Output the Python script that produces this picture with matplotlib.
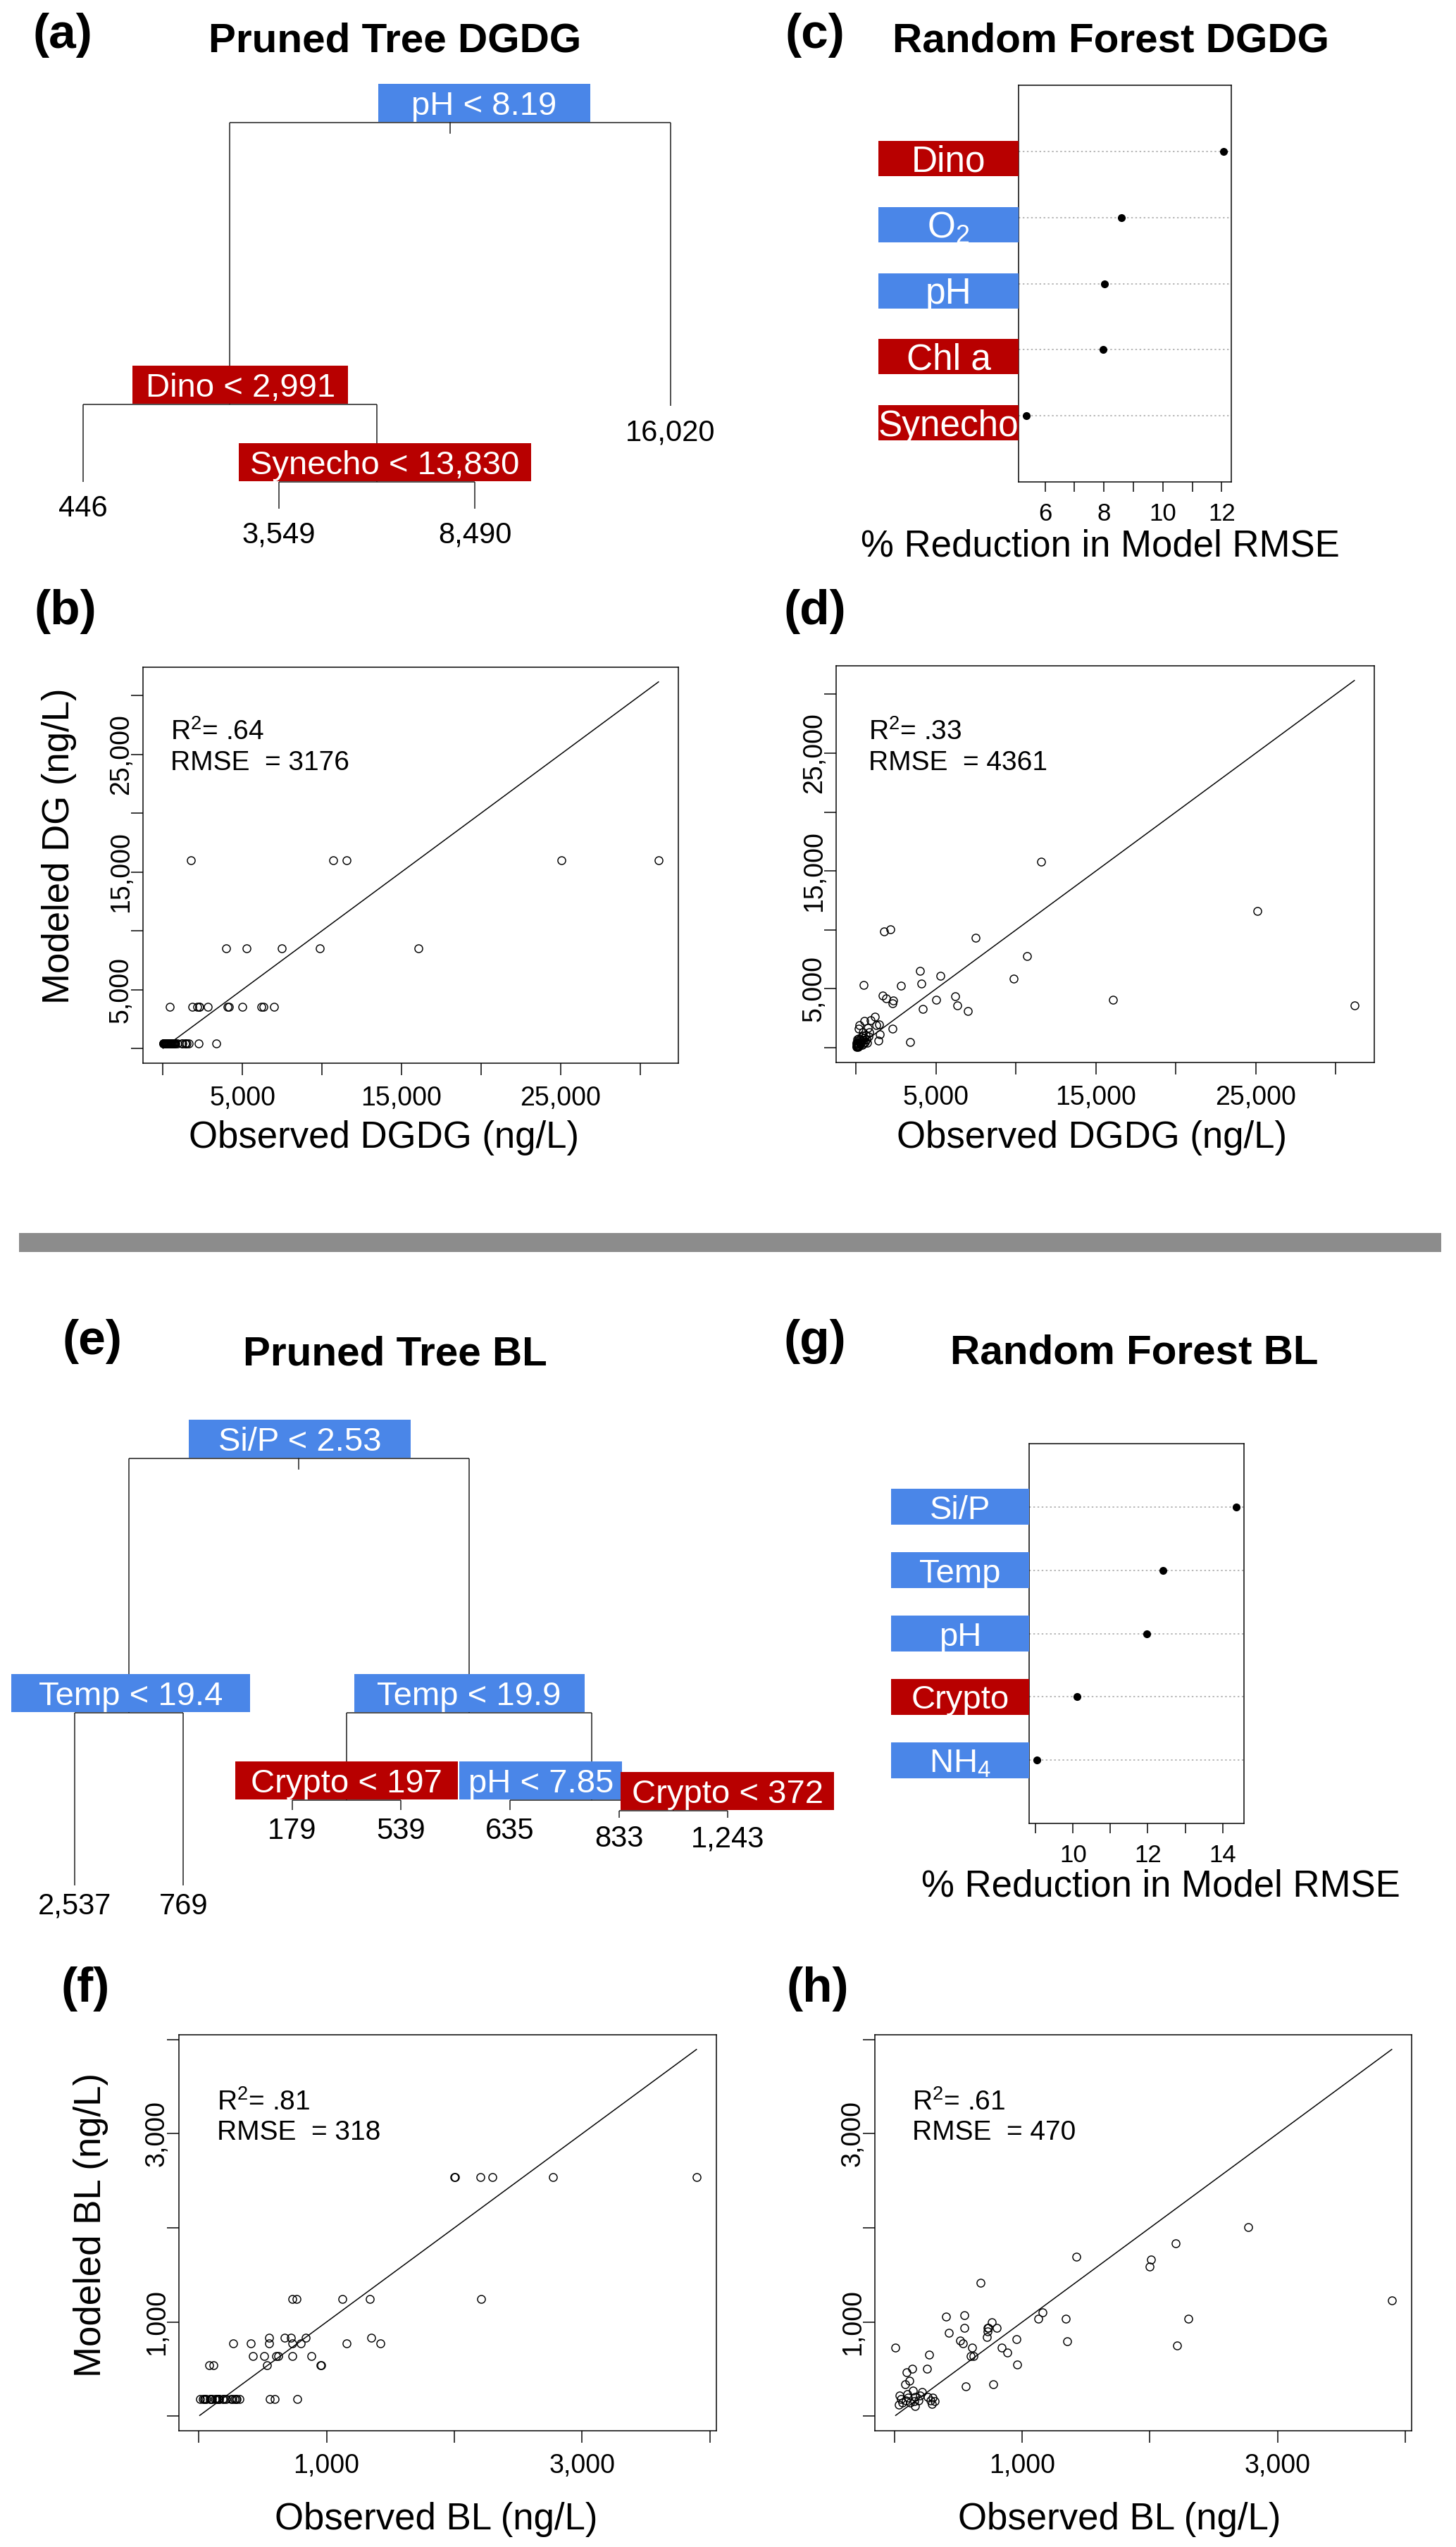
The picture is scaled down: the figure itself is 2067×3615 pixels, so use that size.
import numpy as np
import matplotlib
matplotlib.use("Agg")
import matplotlib.pyplot as plt
from matplotlib.patches import Rectangle
from matplotlib import transforms as mtrans

plt.rcParams['font.family'] = ['Liberation Sans', 'DejaVu Sans']
plt.rcParams['mathtext.fontset'] = 'custom'
plt.rcParams['mathtext.rm'] = 'Liberation Sans'
plt.rcParams['mathtext.it'] = 'Liberation Sans:italic'
plt.rcParams['mathtext.bf'] = 'Liberation Sans:bold'

# ======================= DATA =======================
# (a) pruned regression tree for DGDG (preorder, left child first)
tree_dg_labels = ["pH < 8.19", "Dino < 2,991", "446", "Synecho < 13,830", "3,549", "8,490", "16,020"]
tree_dg_parent = [-1, 0, 1, 1, 3, 3, 0]
tree_dg_height = [1.0, 0.270, 0.069, 0.069, 0.0, 0.0, 0.266]
tree_dg_kind = ["env", "bio", "leaf", "bio", "leaf", "leaf", "leaf"]

# (e) pruned regression tree for BL
tree_bl_labels = ["Si/P < 2.53", "Temp < 19.4", "2,537", "769", "Temp < 19.9", "Crypto < 197",
                  "179", "539", "pH < 7.85", "635", "Crypto < 372", "833", "1,243"]
tree_bl_parent = [-1, 0, 1, 1, 0, 4, 5, 5, 4, 8, 8, 10, 10]
tree_bl_height = [1.0, 0.404, 0.0, 0.0, 0.404, 0.200, 0.177, 0.177, 0.200, 0.177, 0.175, 0.158, 0.158]
tree_bl_kind = ["env", "env", "leaf", "leaf", "env", "bio", "leaf", "leaf", "env", "leaf", "bio", "leaf", "leaf"]

# (c) / (g) random forest variable importance (% reduction in model RMSE)
rf_dg_vars = ["Dino", r"$\mathregular{O_2}$", "pH", "Chl a", "Synecho"]
rf_dg_kind = ["bio", "env", "env", "bio", "bio"]
rf_dg_imp = [12.06, 8.60, 8.02, 7.98, 5.37]

rf_bl_vars = ["Si/P", "Temp", "pH", "Crypto", r"$\mathregular{NH_4}$"]
rf_bl_kind = ["env", "env", "env", "bio", "env"]
rf_bl_imp = [14.36, 12.40, 11.97, 10.11, 9.04]

# (b) / (d) observed DGDG vs pruned-tree and random-forest predictions (ng/L)
dg_obs = [31155, 25070, 11549, 10704, 1746,
          16056, 9859, 7493, 5268, 4000,
          6986, 6310, 6197, 4986, 4169, 4085, 2817, 2310, 2290, 2141, 1859, 451,
          3361, 2257, 1639, 1480, 1420, 1390, 1250, 1197,
          920, 810, 730, 510, 440, 220, 150,
          20, 40, 60, 80, 100, 120, 140, 160, 180, 200,
          230, 260, 290, 320, 350, 380, 410, 450, 490, 530,
          570, 620, 660, 700, 760, 30, 70, 110, 50, 90]
dg_tree = [16020, 16020, 16020, 16020, 16020,
           8490, 8490, 8490, 8490, 8490,
           3549, 3549, 3549, 3549, 3549, 3549, 3549, 3549, 3549, 3549, 3549, 3549,
           446, 446, 446, 446, 446, 446, 446, 446,
           446, 446, 446, 446, 446, 446, 446,
           446, 446, 446, 446, 446, 446, 446, 446, 446, 446,
           446, 446, 446, 446, 446, 446, 446, 446, 446, 446,
           446, 446, 446, 446, 446, 446, 446, 446, 446, 446]
dg_rf = [3600, 11580, 15800, 7780, 9860,
         4090, 5840, 9340, 6130, 6520,
         3110, 3600, 4380, 4090, 3310, 5450, 5250, 4020, 3800, 10060, 4220, 5350,
         490, 1650, 4440, 1120, 2010, 620, 1950, 2630,
         2310, 1310, 1710, 2270, 1350, 1950, 1610,
         150, 300, 200, 450, 250, 600, 350, 100, 800, 500,
         300, 700, 400, 900, 550, 250, 1000, 650, 350, 850,
         500, 1100, 750, 400, 950, 80, 120, 60, 400, 700]
dg_stats_tree = [r"$\mathregular{R^2}$= .64", "RMSE  = 3176"]
dg_stats_rf = [r"$\mathregular{R^2}$= .33", "RMSE  = 4361"]

# (f) / (h) observed BL vs pruned-tree and random-forest predictions (ng/L)
bl_obs = [3896, 2770, 2300, 2204, 2008, 1998,
          2211, 1341, 1126, 763, 730,
          1352, 837, 722, 674, 548,
          1422, 1159, 800, 733, 548, 404, 267,
          881, 730, 619, 604, 511, 422,
          959, 952, 533, 115, 81,
          770, 593, 556, 7,
          90, 138, 252, 50, 31, 96, 141, 160, 188, 123,
          215, 261, 280, 298, 316, 289, 86, 59, 160, 197,
          105, 40, 151]
bl_tree = [2537, 2537, 2537, 2537, 2537, 2537,
           1243, 1243, 1243, 1243, 1243,
           833, 833, 833, 833, 833,
           769, 769, 769, 769, 769, 769, 769,
           635, 635, 635, 635, 635, 635,
           539, 539, 539, 539, 539,
           179, 179, 179, 179,
           179, 179, 179, 179, 179, 179, 179, 179, 179, 179,
           179, 179, 179, 179, 179, 179, 179, 179, 179, 179,
           179, 179, 179]
bl_rf = [1232, 2011, 1036, 1838, 1667, 1592,
         752, 1036, 1036, 998, 941,
         792, 731, 840, 1414, 1073,
         1693, 1101, 941, 941, 941, 1060, 656,
         678, 900, 639, 731, 800, 888,
         546, 814, 774, 376, 338,
         341, 639, 314, 731,
         469, 501, 501, 180, 118, 231, 268, 205, 168, 143,
         256, 205, 168, 193, 155, 130, 168, 143, 105, 218,
         193, 218, 155]
bl_stats_tree = [r"$\mathregular{R^2}$= .81", "RMSE  = 318"]
bl_stats_rf = [r"$\mathregular{R^2}$= .61", "RMSE  = 470"]

dg_ticks = [0, 5000, 10000, 15000, 20000, 25000, 30000]
dg_ticklabels = ["", "5,000", "", "15,000", "", "25,000", ""]
bl_ticks = [0, 1000, 2000, 3000, 4000]
bl_ticklabels = ["", "1,000", "", "3,000", ""]

# ======================= STYLE / LAYOUT =======================
W, H, DPI = 2067, 3615, 100
PT = 72.0 / DPI          # points per pixel
BLUE = "#4A86E8"
RED = "#B80000"
KIND_COL = {"env": BLUE, "bio": RED}
LW = 1.5 * PT

fig = plt.figure(figsize=(W / DPI, H / DPI), dpi=DPI)
fig.patch.set_facecolor("white")


def px_ax(l, t, r, b):
    return fig.add_axes([l / W, 1 - b / H, (r - l) / W, (b - t) / H])


def ftext(x, y, s, **kw):
    fig.text(x / W, 1 - y / H, s, **kw)


def draw_tree(rect, x0px, dxpx, y0px, dhpx, labels, parent, height, kind,
              box_w, box_dx, leaf_off, split_fs=34, leaf_fs=30):
    l, t, r, b = rect
    ax = px_ax(l, t, r, b)
    ax.set_xlim(1 + (l - x0px) / dxpx, 1 + (r - x0px) / dxpx)
    ax.set_ylim((y0px - b) / dhpx, (y0px - t) / dhpx)
    ax.axis("off")
    n = len(labels)
    children = [[j for j in range(n) if parent[j] == i] for i in range(n)]
    xs = [0.0] * n
    k = 0
    for i in range(n):
        if not children[i]:
            k += 1
            xs[i] = float(k)
    for i in reversed(range(n)):
        if children[i]:
            xs[i] = float(np.mean([xs[c] for c in children[i]]))
    # branches
    for i in range(n):
        if children[i]:
            cx = [xs[c] for c in children[i]]
            ax.plot([min(cx), max(cx)], [height[i], height[i]], color="#1a1a1a", lw=LW, zorder=1,
                    solid_capstyle="butt")
            for c in children[i]:
                ax.plot([xs[c], xs[c]], [height[i], height[c]], color="#1a1a1a", lw=LW, zorder=1,
                        solid_capstyle="butt")
    ax.plot([xs[0], xs[0]], [height[0], height[0] - 15 / dhpx], color="#1a1a1a", lw=LW, zorder=1)
    # split boxes and leaf labels
    s = 0
    bh = 54 / dhpx
    for i in range(n):
        if children[i]:
            bw = box_w[s] / dxpx
            cx = xs[i] + box_dx[s] / dxpx
            y_bot = height[i] + 1 / dhpx
            ax.add_patch(Rectangle((cx - bw / 2, y_bot), bw, bh, facecolor=KIND_COL[kind[i]],
                                   edgecolor="none", zorder=3, clip_on=False))
            ax.annotate(labels[i], xy=(cx, y_bot + bh / 2), xytext=(0, -0.36 * split_fs),
                        textcoords="offset points", ha="center", va="baseline",
                        color="white", fontsize=split_fs, zorder=4, annotation_clip=False)
            s += 1
        else:
            ax.annotate(labels[i], xy=(xs[i], height[i]), xytext=(0, -leaf_off * PT),
                        textcoords="offset points", ha="center", va="baseline",
                        color="black", fontsize=leaf_fs, annotation_clip=False)
    return ax


def draw_dotchart(rect, names, kinds, vals, label_fs, box_w, box_off, box_h):
    l, t, r, b = rect
    ax = px_ax(l, t, r, b)
    n = len(names)
    ys = np.arange(n, 0, -1)
    lo, hi = min(vals), max(vals)
    pad = 0.04 * (hi - lo)
    ax.set_xlim(lo - pad, hi + pad)
    ax.set_ylim(0, n + 1)
    for y in ys:
        ax.axhline(y, color="#a8a8a8", lw=1.6 * PT, linestyle=(0, (1.5, 2.2)), zorder=1)
    ax.plot(vals, ys, "o", color="black", ms=7, zorder=3)
    ticks = list(range(int(np.ceil(lo - pad)), int(np.floor(hi + pad)) + 1))
    ax.set_xticks(ticks, [str(v) if v % 2 == 0 else "" for v in ticks])
    ax.set_yticks([])
    ax.tick_params(axis="x", length=14 * PT, width=LW, pad=11, labelsize=25, direction="out")
    for sp in ax.spines.values():
        sp.set_linewidth(LW)
    unit_px = (b - t) / (n + 1)
    trans = mtrans.blended_transform_factory(ax.transAxes, ax.transData)
    fw = box_w / (r - l)
    for y, nm, kd in zip(ys, names, kinds):
        yc = y - box_off / unit_px
        hh = box_h / unit_px
        ax.add_patch(Rectangle((-fw, yc - hh / 2), fw, hh, transform=trans,
                               facecolor=KIND_COL[kd], edgecolor="none", clip_on=False, zorder=3))
        ax.annotate(nm, xy=(-fw / 2, yc), xycoords=trans, xytext=(0, -0.36 * label_fs),
                    textcoords="offset points", ha="center", va="baseline", color="white",
                    fontsize=label_fs, annotation_clip=False, zorder=4)
    return ax


def draw_scatter(rect, obs, pred, ticks, ticklabels, stats, stat_xy):
    l, t, r, b = rect
    ax = px_ax(l, t, r, b)
    hi = max(obs)
    rng = hi - 0
    ax.set_xlim(0 - 0.04 * rng, hi + 0.04 * rng)
    ax.set_ylim(0 - 0.04 * rng, hi + 0.04 * rng)
    ax.plot(obs, pred, "o", mfc="none", mec="black", ms=8, mew=1.05, zorder=3)
    ax.plot([min(obs), max(obs)], [min(obs), max(obs)], color="black", lw=1.5 * PT, zorder=2)
    ax.set_xticks(ticks, ticklabels)
    ax.set_yticks(ticks, ticklabels, rotation=90, ha="center", va="baseline", rotation_mode="anchor")
    ax.tick_params(axis="both", length=17 * PT, width=LW, labelsize=27, direction="out")
    ax.tick_params(axis="x", pad=11)
    ax.tick_params(axis="y", pad=3)
    for sp in ax.spines.values():
        sp.set_linewidth(LW)
    sx, sy1, sy2 = stat_xy
    ftext(sx, sy1, stats[0], ha="left", va="baseline", fontsize=28)
    ftext(sx, sy2, stats[1], ha="left", va="baseline", fontsize=28)
    return ax


# ---------------- panel (a): pruned tree DGDG ----------------
draw_tree((0, 100, 1100, 800), 118, 278, 722, 548,
          tree_dg_labels, tree_dg_parent, tree_dg_height, tree_dg_kind,
          box_w=[301, 306, 415], box_dx=[48, 15, 11], leaf_off=49)
ftext(46, 68, "(a)", ha="left", va="baseline", fontsize=50, fontweight="bold")
ftext(561, 74, "Pruned Tree DGDG", ha="center", va="baseline", fontsize=42, fontweight="bold")

# ---------------- panel (c): random forest DGDG ----------------
draw_dotchart((1446, 121, 1748, 684), rf_dg_vars, rf_dg_kind, rf_dg_imp,
              label_fs=37, box_w=199, box_off=10, box_h=50)
ftext(1115, 68, "(c)", ha="left", va="baseline", fontsize=50, fontweight="bold")
ftext(1577, 74, "Random Forest DGDG", ha="center", va="baseline", fontsize=42, fontweight="bold")
ftext(1562, 789, "% Reduction in Model RMSE", ha="center", va="baseline", fontsize=38)

# ---------------- panel (b): tree fit DGDG ----------------
draw_scatter((203, 947, 963, 1509), dg_obs, dg_tree, dg_ticks, dg_ticklabels,
             dg_stats_tree, (242, 1050, 1093))
ftext(48, 886, "(b)", ha="left", va="baseline", fontsize=50, fontweight="bold")
ftext(545, 1629, "Observed DGDG (ng/L)", ha="center", va="baseline", fontsize=38)
ftext(98, 1201, "Modeled DG (ng/L)", ha="center", va="baseline", fontsize=38,
      rotation=90, rotation_mode="anchor")

# ---------------- panel (d): random forest fit DGDG ----------------
draw_scatter((1187, 945, 1951, 1508), dg_obs, dg_rf, dg_ticks, dg_ticklabels,
             dg_stats_rf, (1233, 1050, 1093))
ftext(1112, 886, "(d)", ha="left", va="baseline", fontsize=50, fontweight="bold")
ftext(1550, 1629, "Observed DGDG (ng/L)", ha="center", va="baseline", fontsize=38)

# ---------------- separator ----------------
fig.add_artist(Rectangle((27 / W, 1 - 1777 / H), (2046 - 27) / W, 27 / H,
                         transform=fig.transFigure, facecolor="#8c8c8c", edgecolor="none"))

# ---------------- panel (e): pruned tree BL ----------------
draw_tree((0, 2000, 1250, 2760), 105.6, 154.6, 2676, 606,
          tree_bl_labels, tree_bl_parent, tree_bl_height, tree_bl_kind,
          box_w=[315, 339, 327, 316, 231, 303], box_dx=[1, 3, 0, 0, -72, 77], leaf_off=41)
ftext(88, 1922, "(e)", ha="left", va="baseline", fontsize=50, fontweight="bold")
ftext(561, 1937, "Pruned Tree BL", ha="center", va="baseline", fontsize=42, fontweight="bold")

# ---------------- panel (g): random forest BL ----------------
draw_dotchart((1461, 2049, 1766, 2588), rf_bl_vars, rf_bl_kind, rf_bl_imp,
              label_fs=34, box_w=196, box_off=0, box_h=51)
ftext(1113, 1922, "(g)", ha="left", va="baseline", fontsize=50, fontweight="bold")
ftext(1610, 1935, "Random Forest BL", ha="center", va="baseline", fontsize=42, fontweight="bold")
ftext(1648, 2692, "% Reduction in Model RMSE", ha="center", va="baseline", fontsize=38)

# ---------------- panel (f): tree fit BL ----------------
draw_scatter((254, 2888, 1017, 3450), bl_obs, bl_tree, bl_ticks, bl_ticklabels,
             bl_stats_tree, (308, 2995, 3037))
ftext(87, 2841, "(f)", ha="left", va="baseline", fontsize=50, fontweight="bold")
ftext(619, 3590, "Observed BL (ng/L)", ha="center", va="baseline", fontsize=38)
ftext(143, 3158, "Modeled BL (ng/L)", ha="center", va="baseline", fontsize=38,
      rotation=90, rotation_mode="anchor")

# ---------------- panel (h): random forest fit BL ----------------
draw_scatter((1242, 2888, 2004, 3450), bl_obs, bl_rf, bl_ticks, bl_ticklabels,
             bl_stats_rf, (1295, 2995, 3037))
ftext(1116, 2841, "(h)", ha="left", va="baseline", fontsize=50, fontweight="bold")
ftext(1589, 3590, "Observed BL (ng/L)", ha="center", va="baseline", fontsize=38)

fig.savefig("out.png", dpi=DPI, facecolor="white")
